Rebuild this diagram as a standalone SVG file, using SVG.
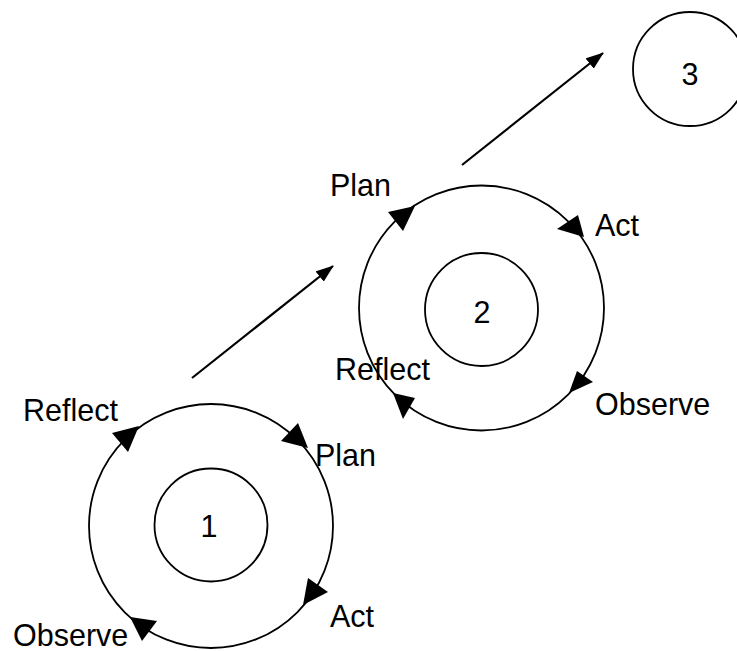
<svg xmlns="http://www.w3.org/2000/svg" width="737" height="651" viewBox="0 0 737 651">
<defs>
<style>
.c{fill:none;stroke:#000;stroke-width:1.8}
.h{fill:#000;stroke:none}
.t{font-family:"Liberation Sans",Arial,sans-serif;font-size:30.5px;fill:#000}
.m{text-anchor:middle}
.l{fill:none;stroke:#000;stroke-width:2.2}
</style>
<marker id="ah" viewBox="0 0 18 13" refX="17" refY="6.5" markerWidth="18" markerHeight="13" markerUnits="userSpaceOnUse" orient="auto">
<path d="M0,0 L18,6.5 L0,13 z" fill="#000"/>
</marker>
</defs>
<rect width="737" height="651" fill="#fff"/>
<g id="cycle1">
<circle class="c" cx="211" cy="526" r="122"/>
<circle class="c" cx="211" cy="525" r="56.5"/>
<polygon class="h" points="139,426 112,433 128,452"/>
<polygon class="h" points="308,448 281,441 298,423"/>
<polygon class="h" points="303,605 308,578 328,592"/>
<polygon class="h" points="130,617 157,621 142,641"/>
<text class="t m" x="209" y="537">1</text>
<text class="t" x="23" y="421">Reflect</text>
<text class="t" x="315" y="466">Plan</text>
<text class="t" x="330" y="627">Act</text>
<text class="t" x="13" y="646">Observe</text>
</g>
<g id="cycle2">
<circle class="c" cx="481.5" cy="308" r="122.5"/>
<circle class="c" cx="481.5" cy="309.5" r="56.5"/>
<polygon class="h" points="415,206 388,212 403,231"/>
<polygon class="h" points="584,237 578,215 557,229"/>
<polygon class="h" points="569,393 577,371 593,382"/>
<polygon class="h" points="393,393 415,398 403,419"/>
<text class="t m" x="482" y="323">2</text>
<text class="t" x="330" y="196">Plan</text>
<text class="t" x="595" y="236">Act</text>
<text class="t" x="335" y="380">Reflect</text>
<text class="t" x="595" y="415">Observe</text>
</g>
<g id="node3">
<circle class="c" cx="690" cy="69" r="57"/>
<text class="t m" x="690" y="85">3</text>
</g>
<g id="connectors">
<line class="l" x1="192" y1="378" x2="333" y2="266" marker-end="url(#ah)"/>
<line class="l" x1="462" y1="165" x2="603" y2="53" marker-end="url(#ah)"/>
</g>
</svg>
